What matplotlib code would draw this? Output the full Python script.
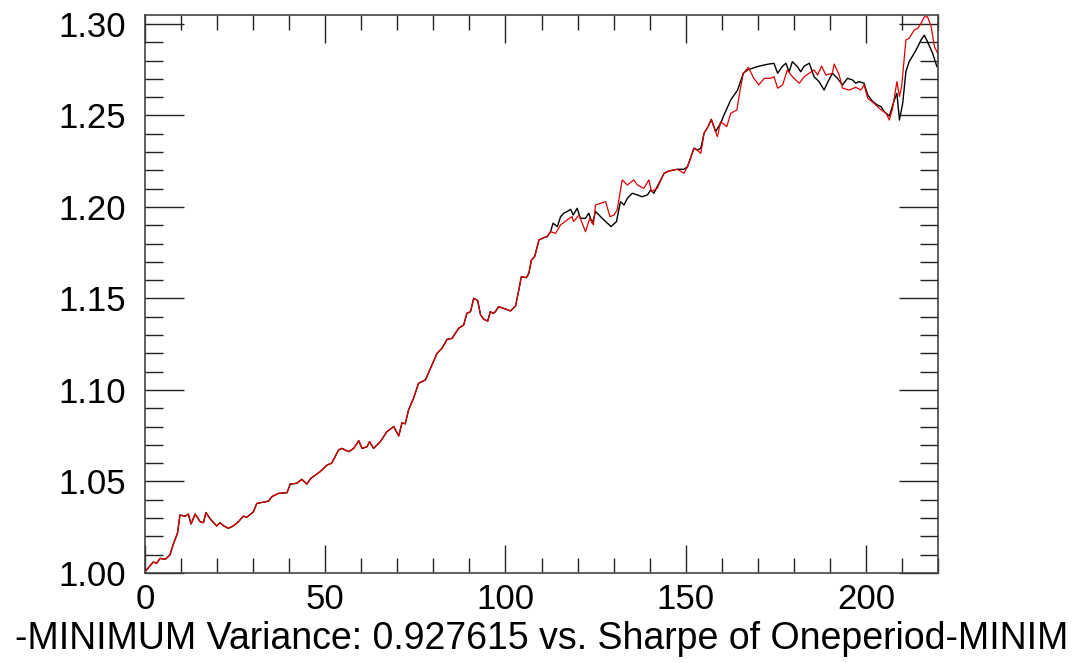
import numpy as np
from matplotlib import pyplot as plt
from matplotlib.ticker import MultipleLocator

# shared start of both curves (they lie on top of each other up to ~112)
commonX = [0, 2.3, 3.2, 4.2, 5.6, 6.9, 7.9, 9.0, 9.7, 11.1, 12.0, 12.8, 13.9, 15.3, 16.2, 16.9,
           18.2, 19.9, 20.8, 21.9, 23.1, 24.5, 25.9, 27.3, 28.2, 30.1, 31.0, 34.3, 35.2, 37.0,
           39.4, 40.3, 42.1, 43.5, 44.9, 46.0, 48.6, 50.5, 51.8, 53.7, 54.6, 56.5, 57.9, 59.3,
           60.2, 61.6, 62.3, 63.4, 65.3, 67.1, 69.0, 70.4, 71.3, 72.2, 73.1, 74.5, 75.9, 77.8,
           79.2, 81.0, 82.4, 83.8, 85.2, 86.1, 87.0, 88.4, 89.3, 90.3, 91.2, 92.3, 93.1, 94.0,
           95.1, 95.8, 96.6, 97.2, 98.1, 99.5, 101.4, 102.8, 103.7, 104.4, 105.8, 106.5, 107.2,
           108.1, 109.3, 110.6, 111.6, 112.5]
commonY = [1.0007, 1.0060, 1.0053, 1.0080, 1.0075, 1.0098, 1.0160, 1.0217, 1.0317, 1.0310,
           1.0322, 1.0268, 1.0322, 1.0280, 1.0275, 1.0330, 1.0293, 1.0257, 1.0275, 1.0257,
           1.0244, 1.0257, 1.0280, 1.0311, 1.0304, 1.0335, 1.0380, 1.0393, 1.0417, 1.0435,
           1.0439, 1.0486, 1.0490, 1.0512, 1.0486, 1.0517, 1.0554, 1.0590, 1.0600, 1.0672,
           1.0681, 1.0663, 1.0681, 1.0723, 1.0681, 1.0690, 1.0718, 1.0681, 1.0718, 1.0772,
           1.0800, 1.0749, 1.0821, 1.0815, 1.0890, 1.0955, 1.1037, 1.1055, 1.1119, 1.1200,
           1.1228, 1.1277, 1.1282, 1.1310, 1.1337, 1.1355, 1.1419, 1.1428, 1.1501, 1.1488,
           1.1410, 1.1386, 1.1377, 1.1428, 1.1419, 1.1428, 1.1455, 1.1446, 1.1432, 1.1459,
           1.1546, 1.1619, 1.1614, 1.1638, 1.1710, 1.1729, 1.1820, 1.1832, 1.1838, 1.1865]

redX = [113.9, 115.3, 117.1, 118.5, 118.9, 120.4, 122.2, 123.4, 124.4, 125.0, 126.4, 127.8,
        129.0, 130.1, 131.0, 132.4, 133.8, 135.6, 136.6, 138.4, 139.8, 140.5, 142.1, 144.0,
        145.4, 147.7, 149.5, 150.5, 152.3, 153.2, 154.2, 155.1, 156.2, 157.1, 158.8, 159.7,
        161.4, 162.5, 164.2, 165.1, 166.0, 167.4, 168.9, 170.3, 171.8, 173.6, 174.5, 175.5,
        176.9, 178.2, 179.6, 181.5, 182.9, 184.3, 185.6, 186.6, 187.7, 188.9, 190.7, 191.2,
        192.6, 193.5, 195.4, 197.2, 198.6, 199.5, 200.5, 202.3, 204.2, 205.6, 206.5, 207.4,
        208.6, 209.3, 209.9, 211.1, 212.0, 213.4, 214.4, 215.3, 216.2, 217.1, 218.1, 219.0,
        219.9]
redY = [1.1856, 1.1902, 1.1929, 1.1947, 1.1920, 1.1956, 1.1865, 1.1938, 1.1902, 1.2011,
        1.2020, 1.2029, 1.1947, 1.1956, 1.1984, 1.2148, 1.2120, 1.2148, 1.2120, 1.2102,
        1.2148, 1.2084, 1.2102, 1.2184, 1.2197, 1.2206, 1.2184, 1.2220, 1.2321, 1.2311,
        1.2293, 1.2403, 1.2439, 1.2479, 1.2384, 1.2466, 1.2439, 1.2512, 1.2530, 1.2639,
        1.2731, 1.2763, 1.2703, 1.2667, 1.2703, 1.2703, 1.2712, 1.2649, 1.2667, 1.2749,
        1.2712, 1.2676, 1.2712, 1.2731, 1.2749, 1.2721, 1.2770, 1.2721, 1.2731, 1.2781,
        1.2721, 1.2649, 1.2639, 1.2654, 1.2639, 1.2667, 1.2594, 1.2566, 1.2530, 1.2512,
        1.2475, 1.2539, 1.2685, 1.2603, 1.2657, 1.2913, 1.2922, 1.2967, 1.2976, 1.3003,
        1.3039, 1.3039, 1.2985, 1.2876, 1.2840]

blackX = [113.2, 114.4, 115.3, 116.2, 117.1, 118.1, 118.8, 119.9, 120.8, 122.2, 123.1, 124.1,
          125.0, 126.4, 127.8, 129.3, 130.8, 131.9, 132.9, 133.8, 135.2, 136.6, 137.9, 139.4,
          140.3, 141.2, 142.1, 144.0, 145.4, 147.7, 149.5, 150.5, 152.3, 153.2, 154.2, 155.1,
          156.2, 157.1, 158.3, 159.7, 160.5, 162.5, 164.4, 166.0, 167.2, 168.5, 169.9, 171.8,
          173.1, 174.5, 175.5, 176.9, 177.8, 178.7, 179.6, 181.0, 181.9, 182.9, 184.3, 185.6,
          187.0, 188.4, 189.5, 190.7, 192.1, 193.5, 194.9, 196.3, 197.2, 198.0, 199.5, 200.5,
          201.9, 203.2, 204.2, 205.1, 206.5, 207.9, 208.6, 209.3, 210.2, 211.1, 212.0, 213.4,
          214.4, 215.3, 216.2, 217.1, 218.5, 219.7]
blackY = [1.1911, 1.1893, 1.1947, 1.1966, 1.1975, 1.1987, 1.1956, 1.1993, 1.1938, 1.1938,
          1.1966, 1.1911, 1.1975, 1.1947, 1.1920, 1.1893, 1.1920, 1.2029, 1.2011, 1.2047,
          1.2075, 1.2066, 1.2056, 1.2066, 1.2093, 1.2075, 1.2111, 1.2184, 1.2197, 1.2206,
          1.2206, 1.2220, 1.2321, 1.2311, 1.2321, 1.2403, 1.2439, 1.2479, 1.2412, 1.2457,
          1.2497, 1.2585, 1.2639, 1.2731, 1.2749, 1.2758, 1.2767, 1.2776, 1.2781, 1.2785,
          1.2731, 1.2770, 1.2785, 1.2739, 1.2794, 1.2767, 1.2739, 1.2770, 1.2785, 1.2712,
          1.2685, 1.2639, 1.2685, 1.2731, 1.2703, 1.2667, 1.2703, 1.2694, 1.2676, 1.2685,
          1.2676, 1.2612, 1.2576, 1.2557, 1.2548, 1.2521, 1.2497, 1.2585, 1.2621, 1.2475,
          1.2566, 1.2740, 1.2794, 1.2840, 1.2876, 1.2913, 1.2939, 1.2903, 1.2840, 1.2767]

xTicks = [0, 50, 100, 150, 200]
yTicks = [1.00, 1.05, 1.10, 1.15, 1.20, 1.25, 1.30]
xLabel = "-MINIMUM Variance: 0.927615 vs. Sharpe of Oneperiod-MINIM"

plt.rcParams['font.family'] = ['Liberation Sans', 'DejaVu Sans']

fig = plt.figure(figsize=(10.76, 6.63), dpi=100)
ax = fig.add_axes([145 / 1076, 1 - 573 / 663, (938 - 145) / 1076, (573 - 15) / 663])

ax.plot(commonX + blackX, commonY + blackY, color='black', lw=1.0)
ax.plot(commonX + redX, commonY + redY, color='#e00000', lw=0.9)

ax.set_xlim(0, 220)
ax.set_ylim(1.0, 1.3049)
ax.set_xticks(xTicks)
ax.set_yticks(yTicks)
ax.set_yticklabels([f"{v:.2f}" for v in yTicks])
ax.xaxis.set_minor_locator(MultipleLocator(10))
ax.yaxis.set_minor_locator(MultipleLocator(0.01))

ax.tick_params(axis='both', which='both', direction='in', top=True, right=True,
               color='#222222', width=1.0, labelsize=25)
ax.tick_params(axis='x', which='major', length=20, pad=7)
ax.tick_params(axis='x', which='minor', length=10.5)
ax.tick_params(axis='y', which='major', length=28, pad=14)
ax.tick_params(axis='y', which='minor', length=13)
for s in ax.spines.values():
    s.set_color('#444444')
    s.set_linewidth(1.2)

ax.set_xlabel(xLabel, fontsize=27, labelpad=4)

fig.savefig("out.png", dpi=100)
